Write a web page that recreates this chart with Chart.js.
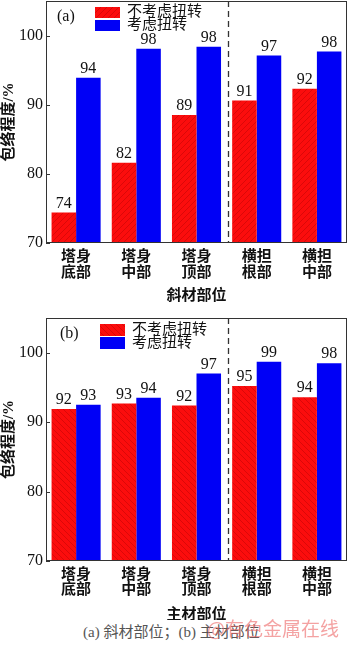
<!DOCTYPE html>
<html>
<head>
<meta charset="utf-8">
<script src="https://cdn.jsdelivr.net/npm/chart.js@4/dist/chart.umd.min.js"></script>
<style>
  html, body { margin: 0; padding: 0; background: #fff; }
  body { width: 350px; height: 645px; position: relative; overflow: hidden; }
  .box { position: absolute; left: 0; width: 350px; height: 310px; }
  #caption { position: absolute; left: 83px; top: 622px; font: 15px 'Liberation Serif', 'Noto Sans CJK SC', serif; color: #555; line-height: 20px; white-space: nowrap; }
  #mark { position: absolute; left: 207px; top: 616px; font: 19px 'Noto Sans CJK SC', sans-serif; color: rgba(236, 100, 100, 0.6); line-height: 24px; white-space: nowrap; }
</style>
</head>
<body>
<div class="box" style="top:0"><canvas id="ca" width="350" height="310"></canvas></div>
<div class="box" style="top:310px"><canvas id="cb" width="350" height="310"></canvas></div>
<div id="caption">(a) 斜材部位；(b) 主材部位</div>
<div id="mark">@有色金属在线</div>
<script>
// ---- data ----
const categories = [['塔身', '底部'], ['塔身', '中部'], ['塔身', '顶部'], ['横担', '根部'], ['横担', '中部']];
const seriesNames = ['不考虑扭转', '考虑扭转'];
const yTicks = [70, 80, 90, 100];

// (a) 斜材部位
const diagNoTorsion = [74.4, 81.6, 88.5, 90.6, 92.3];
const diagTorsion = [93.9, 98.1, 98.4, 97.1, 97.7];
const diagNoTorsionLabels = ['74', '82', '89', '91', '92'];
const diagTorsionLabels = ['94', '98', '98', '97', '98'];

// (b) 主材部位
const mainNoTorsion = [91.9, 92.7, 92.4, 95.2, 93.6];
const mainTorsion = [92.5, 93.5, 97.0, 98.7, 98.5];
const mainNoTorsionLabels = ['92', '93', '92', '95', '94'];
const mainTorsionLabels = ['93', '94', '97', '99', '98'];

const FONT = "'Liberation Serif', 'Noto Sans CJK SC', serif";
const BLUE = '#0000f6';

function hatch(dir) {
  const c = document.createElement('canvas');
  c.width = 6; c.height = 6;
  const g = c.getContext('2d');
  g.fillStyle = '#fb0d0d';
  g.fillRect(0, 0, 6, 6);
  g.strokeStyle = 'rgba(160,0,0,0.35)';
  g.lineWidth = 1;
  g.beginPath();
  if (dir > 0) {
    g.moveTo(0, 6); g.lineTo(6, 0);
    g.moveTo(-1, 1); g.lineTo(1, -1);
    g.moveTo(5, 7); g.lineTo(7, 5);
  } else {
    g.moveTo(0, 0); g.lineTo(6, 6);
    g.moveTo(-1, 5); g.lineTo(1, 7);
    g.moveTo(5, -1); g.lineTo(7, 1);
  }
  g.stroke();
  return g.createPattern(c, 'repeat');
}

const deco = {
  id: 'deco',
  afterDatasetsDraw(chart) {
    const o = chart.options.plugins.deco;
    const ctx = chart.ctx;
    const a = chart.chartArea;
    const xs = chart.scales.x, ys = chart.scales.y;
    ctx.save();
    // value labels
    ctx.font = '16px ' + FONT;
    ctx.fillStyle = '#111';
    ctx.textAlign = 'center';
    ctx.textBaseline = 'bottom';
    o.valueLabels.forEach((labs, di) => {
      chart.getDatasetMeta(di).data.forEach((bar, i) => {
        ctx.fillText(labs[i], bar.x, bar.y - 1);
      });
    });
    // dashed separator
    const dx = (xs.getPixelForValue(2) + xs.getPixelForValue(3)) / 2 + 1;
    ctx.strokeStyle = '#333';
    ctx.lineWidth = 1.3;
    ctx.setLineDash([6, 4]);
    ctx.beginPath();
    ctx.moveTo(Math.round(dx) + 0.5, a.top);
    ctx.lineTo(Math.round(dx) + 0.5, a.bottom);
    ctx.stroke();
    ctx.setLineDash([]);
    // frame
    ctx.strokeStyle = '#333';
    ctx.lineWidth = 1;
    ctx.strokeRect(a.left + 0.5, a.top + 0.5, a.right - a.left - 1, a.bottom - a.top - 1);
    // inward tick marks
    ctx.beginPath();
    yTicks.forEach(v => {
      const y = Math.round(ys.getPixelForValue(v)) + 0.5;
      ctx.moveTo(a.left, y);
      ctx.lineTo(a.left + 4, y);
    });
    ctx.stroke();
    // panel tag
    ctx.fillStyle = '#111';
    ctx.font = '16px ' + FONT;
    ctx.textAlign = 'left';
    ctx.textBaseline = 'middle';
    ctx.fillText(o.tag, o.tagX, o.tagY);
    // legend
    chart.data.datasets.forEach((ds, i) => {
      const y = o.legY + i * o.legGap;
      ctx.fillStyle = ds.backgroundColor;
      ctx.fillRect(o.legX, y, 25, o.boxH);
      ctx.fillStyle = '#111';
      ctx.font = '15px ' + FONT;
      ctx.textBaseline = 'middle';
      ctx.fillText(ds.label, o.legX + 32, y + o.boxH / 2);
    });
    ctx.restore();
  }
};

function makeChart(id, red, blue, redLabs, blueLabs, cfg) {
  return new Chart(document.getElementById(id), {
    type: 'bar',
    data: {
      labels: categories,
      datasets: [
        { label: seriesNames[0], data: red, backgroundColor: hatch(cfg.dir), borderWidth: 0 },
        { label: seriesNames[1], data: blue, backgroundColor: BLUE, borderWidth: 0 }
      ]
    },
    options: {
      responsive: false,
      animation: false,
      devicePixelRatio: 1,
      layout: { padding: { top: cfg.padTop, right: 3, left: 0, bottom: 0 } },
      datasets: { bar: { categoryPercentage: 0.815, barPercentage: 1.0 } },
      plugins: {
        legend: { display: false },
        tooltip: { enabled: false },
        deco: Object.assign({ valueLabels: [redLabs, blueLabs] }, cfg.deco)
      },
      scales: {
        x: {
          grid: { display: false, drawTicks: false },
          border: { display: false },
          ticks: { color: '#111', padding: cfg.tickPad, maxRotation: 0, autoSkip: false, font: { family: FONT, size: 15, weight: 'bold', lineHeight: cfg.tickLH + 'px' } },
          title: { display: true, text: cfg.xTitle, color: '#111', padding: { top: 0, bottom: cfg.titlePad }, font: { family: FONT, size: 15, weight: 'bold', lineHeight: cfg.titleLH + 'px' } },
          afterFit: s => { s.height = cfg.xHeight; s.paddingLeft = 0; s.paddingRight = 0; }
        },
        y: {
          min: 70, max: 105,
          afterBuildTicks: s => { s.ticks = yTicks.map(v => ({ value: v })); },
          grid: { display: false, drawTicks: false },
          border: { display: false },
          ticks: { color: '#111', padding: 3, font: { family: FONT, size: 16, lineHeight: '18px' } },
          title: { display: true, text: '包络程度/%', color: '#111', padding: 0, font: { family: FONT, size: 15, weight: 'bold', lineHeight: '19px' } },
          afterFit: s => { s.width = 46; s.paddingTop = 0; s.paddingBottom = 0; }
        }
      }
    },
    plugins: [deco]
  });
}

makeChart('ca', diagNoTorsion, diagTorsion, diagNoTorsionLabels, diagTorsionLabels, {
  dir: 1, padTop: 1, tickPad: 6, tickLH: 16, xTitle: '斜材部位', titlePad: 6, titleLH: 16, xHeight: 67,
  deco: { tag: '(a)', tagX: 57, tagY: 17, legX: 95, legY: 7, legGap: 13, boxH: 11 }
});
makeChart('cb', mainNoTorsion, mainTorsion, mainNoTorsionLabels, mainTorsionLabels, {
  dir: -1, padTop: 8, tickPad: 7, tickLH: 15, xTitle: '主材部位', titlePad: 0, titleLH: 10, xHeight: 59,
  deco: { tag: '(b)', tagX: 60, tagY: 24, legX: 100, legY: 14, legGap: 13, boxH: 12 }
});
</script>
</body>
</html>
